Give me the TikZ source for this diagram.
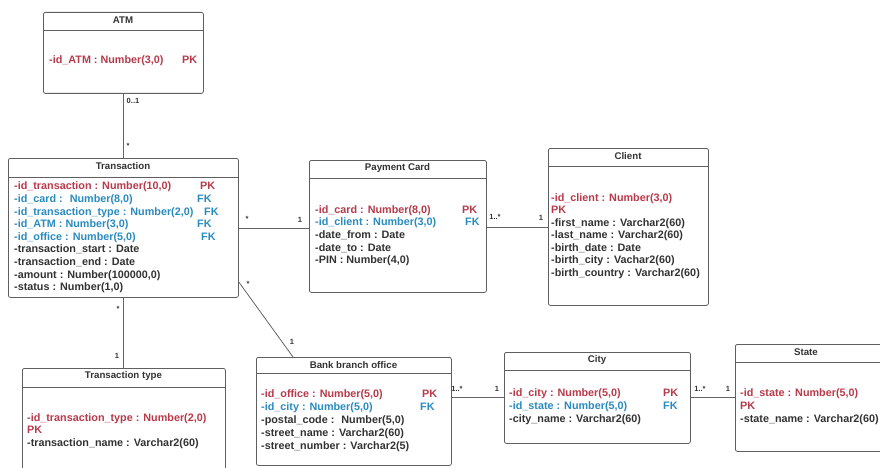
\documentclass[tikz,border=0pt]{standalone}
\usepackage{fontspec}
\setmainfont{Liberation Sans}
\definecolor{pkred}{RGB}{184,58,75}
\definecolor{fkblue}{RGB}{42,139,191}
\definecolor{txt}{RGB}{51,51,51}
\definecolor{boxgray}{RGB}{95,95,95}
\definecolor{linegray}{RGB}{100,100,100}
\begin{document}
\begin{tikzpicture}[x=1pt,y=-1pt,
  classbox/.style={draw=boxgray, line width=0.8pt, rounded corners=2pt, anchor=north west, inner sep=0pt, fill=white},
  hdr/.style={draw=boxgray, line width=0.8pt},
  title/.style={font=\fontsize{9.7}{11}\selectfont\bfseries, text=txt, inner sep=0pt},
  attr/.style={font=\fontsize{10.8}{12}\selectfont\bfseries, text=txt, anchor=base west, yshift=-4pt, inner sep=0pt},
  pk/.style={attr, text=pkred},
  fk/.style={attr, text=fkblue},
  mult/.style={font=\fontsize{7.5}{9}\selectfont\bfseries, text=txt, inner sep=0pt},
  link/.style={draw=linegray, line width=0.8pt}]
\useasboundingbox (0,0) rectangle (880,468);
\clip (0,0) rectangle (880,468);

% ---------- class boxes ----------
\node[classbox, minimum width=160pt, minimum height=81pt]  (atm)  at (43,12)  {};
\node[classbox, minimum width=230pt, minimum height=139pt] (tr)   at (8,158)  {};
\node[classbox, minimum width=177pt, minimum height=132pt] (pc)   at (309,160) {};
\node[classbox, minimum width=160pt, minimum height=157pt] (cl)   at (548,148) {};
\node[classbox, minimum width=203pt, minimum height=112pt] (tt)   at (22,368) {};
\node[classbox, minimum width=195pt, minimum height=108pt] (bk)   at (256,357) {};
\node[classbox, minimum width=186pt, minimum height=91pt]  (city) at (504,352) {};
\node[classbox, minimum width=165pt, minimum height=107pt] (st)   at (735,344) {};

% header separators
\draw[hdr] (atm.west |- 0,30)  -- (atm.east |- 0,30);
\draw[hdr] (tr.west |- 0,177)  -- (tr.east |- 0,177);
\draw[hdr] (pc.west |- 0,178)  -- (pc.east |- 0,178);
\draw[hdr] (cl.west |- 0,166)  -- (cl.east |- 0,166);
\draw[hdr] (tt.west |- 0,387)  -- (tt.east |- 0,387);
\draw[hdr] (bk.west |- 0,373)  -- (bk.east |- 0,373);
\draw[hdr] (city.west |- 0,370) -- (city.east |- 0,370);
\draw[hdr] (st.west |- 0,362)  -- (st.east |- 0,362);

% titles
\node[title] (atmT)  at (123,20)  {ATM};
\node[title] (trT)   at (123,166) {Transaction};
\node[title] (pcT)   at (397.5,168) {Payment Card};
\node[title] (clT)   at (628,156) {Client};
\node[title] (ttT)   at (123.5,376) {Transaction type};
\node[title] (bkT)   at (353.5,365) {Bank branch office};
\node[title] (cityT) at (597,360) {City};
\node[title] (stT)   at (806,352) {State};

% ATM
\node[pk] (atm1) at (49,60) {-id\_ATM : Number(3,0)};
\node[pk] (atm1k) at (182,60) {PK};

% Transaction
\node[pk] (tr1) at (14,185) {-id\_transaction : Number(10,0)};
\node[pk] (tr1k) at (200,185) {PK};
\node[fk] (tr2) at (14,198) {-id\_card :~ Number(8,0)};
\node[fk] (tr2k) at (197,198) {FK};
\node[fk] (tr3) at (14,211) {-id\_transaction\_type : Number(2,0)};
\node[fk] (tr3k) at (204,211) {FK};
\node[fk] (tr4) at (14,223) {-id\_ATM : Number(3,0)};
\node[fk] (tr4k) at (197,223) {FK};
\node[fk] (tr5) at (14,236) {-id\_office : Number(5,0)};
\node[fk] (tr5k) at (201,236) {FK};
\node[attr] (tr6) at (14,248) {-transaction\_start : Date};
\node[attr] (tr7) at (14,261) {-transaction\_end : Date};
\node[attr] (tr8) at (14,274) {-amount : Number(100000,0)};
\node[attr] (tr9) at (14,286) {-status : Number(1,0)};

% Payment Card
\node[pk] (pc1) at (315,209) {-id\_card : Number(8,0)};
\node[pk] (pc1k) at (462,209) {PK};
\node[fk] (pc2) at (315,221) {-id\_client : Number(3,0)};
\node[fk] (pc2k) at (465,221) {FK};
\node[attr] (pc3) at (315,234) {-date\_from : Date};
\node[attr] (pc4) at (315,247) {-date\_to : Date};
\node[attr] (pc5) at (315,259) {-PIN : Number(4,0)};

% Client
\node[pk] (cl1) at (551,197) {-id\_client : Number(3,0)};
\node[pk] (cl1k) at (551,209) {PK};
\node[attr] (cl2) at (551,222) {-first\_name : Varchar2(60)};
\node[attr] (cl3) at (551,234) {-last\_name : Varchar2(60)};
\node[attr] (cl4) at (551,247) {-birth\_date : Date};
\node[attr] (cl5) at (551,259) {-birth\_city : Vachar2(60)};
\node[attr] (cl6) at (551,272) {-birth\_country : Varchar2(60)};

% Transaction type
\node[pk] (tt1) at (27,417) {-id\_transaction\_type : Number(2,0)};
\node[pk] (tt1k) at (27,429) {PK};
\node[attr] (tt2) at (27,442) {-transaction\_name : Varchar2(60)};

% Bank branch office
\node[pk] (bk1) at (261,393) {-id\_office : Number(5,0)};
\node[pk] (bk1k) at (422,393) {PK};
\node[fk] (bk2) at (261,406) {-id\_city : Number(5,0)};
\node[fk] (bk2k) at (420,406) {FK};
\node[attr] (bk3) at (261,419) {-postal\_code :~ Number(5,0)};
\node[attr] (bk4) at (261,432) {-street\_name : Varchar2(60)};
\node[attr] (bk5) at (261,445) {-street\_number : Varchar2(5)};

% City
\node[pk] (ci1) at (509,392) {-id\_city : Number(5,0)};
\node[pk] (ci1k) at (663,392) {PK};
\node[fk] (ci2) at (509,405) {-id\_state : Number(5,0)};
\node[fk] (ci2k) at (663,405) {FK};
\node[attr] (ci3) at (509,418) {-city\_name : Varchar2(60)};

% State
\node[pk] (st1) at (740,392) {-id\_state : Number(5,0)};
\node[pk] (st1k) at (740,405) {PK};
\node[attr] (st2) at (740,418) {-state\_name : Varchar2(60)};

% ---------- associations ----------
\draw[link] (atm.south) -- (tr.north);
\draw[link] (tr.south) -- (tt.north -| tr.south);
\draw[link] (tr.east |- 0,228) -- (pc.west |- 0,228);
\draw[link] (pc.east |- 0,227) -- (cl.west |- 0,227);
\draw[link] (tr.east |- 0,282) -- ([xshift=37pt]bk.north west);
\draw[link] (bk.east |- 0,397) -- (city.west |- 0,397);
\draw[link] (city.east |- 0,397) -- (st.west |- 0,397);

% multiplicities
\node[mult] (m1) at (133,101) {0..1};
\node[mult] (m2) at (128,146) {*};
\node[mult] (m3) at (247,219) {*};
\node[mult] (m4) at (300,220) {1};
\node[mult] (m5) at (495,217) {1..*};
\node[mult] (m6) at (541,218) {1};
\node[mult] (m7) at (248,284) {*};
\node[mult] (m8) at (292,342) {1};
\node[mult] (m9) at (118,309) {*};
\node[mult] (m10) at (117,356) {1};
\node[mult] (m11) at (457,389) {1..*};
\node[mult] (m12) at (497,389) {1};
\node[mult] (m13) at (700,389) {1..*};
\node[mult] (m14) at (728,389) {1};
\end{tikzpicture}
\end{document}
